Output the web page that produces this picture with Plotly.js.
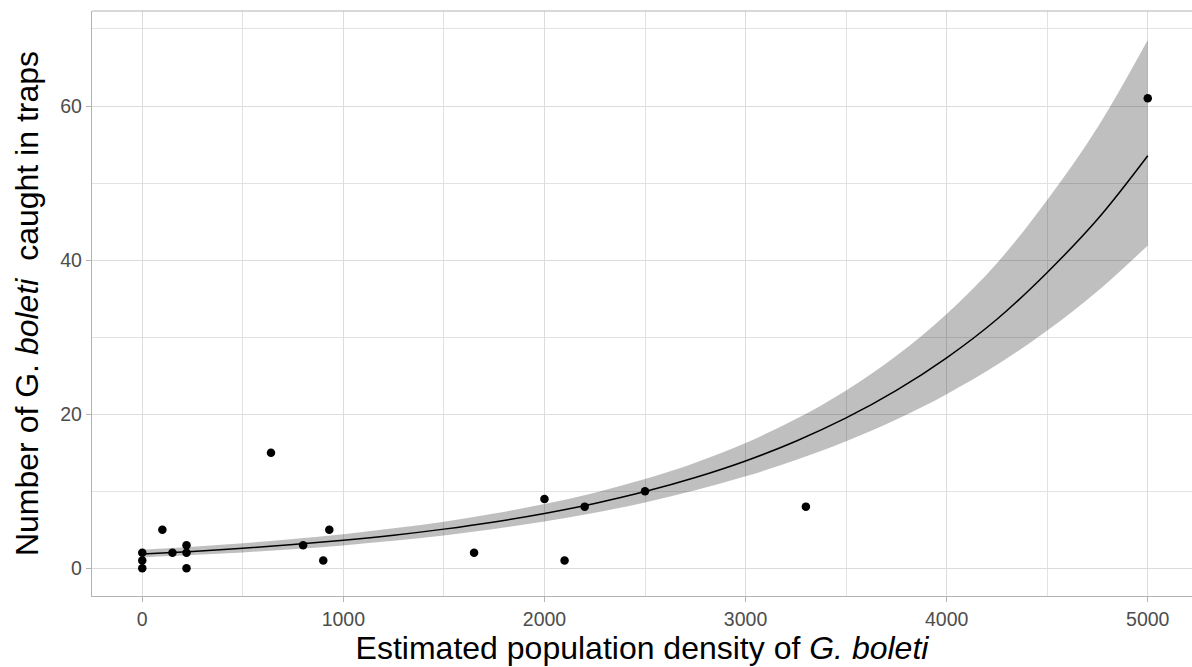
<!DOCTYPE html>
<html>
<head>
<meta charset="utf-8">
<script src="https://cdn.plot.ly/plotly-3.0.1.min.js"></script>
<style>
  html, body { margin: 0; padding: 0; background: #ffffff; }
  #chart { width: 1192px; height: 667px; }
</style>
</head>
<body>
<div id="chart"></div>
<script>
// Observed data points
const density = [0, 0, 0, 100, 150, 220, 220, 220, 640, 800, 900, 930, 1650, 2000, 2100, 2200, 2500, 3300, 5000];
const caught  = [0, 1, 2, 5, 2, 3, 2, 0, 15, 3, 1, 5, 2, 9, 1, 8, 10, 8, 61];

// Fitted curve and confidence band
const fitX     = [0, 250, 500, 750, 1000, 1250, 1500, 1750, 2000, 2250, 2500, 2750, 3000, 3250, 3500, 3750, 4000, 4250, 4500, 4750, 5000];
const fitY     = [1.85, 2.19, 2.59, 3.07, 3.63, 4.29, 5.08, 6.01, 7.11, 8.41, 9.95, 11.78, 13.93, 16.49, 19.51, 23.08, 27.31, 32.32, 38.40, 45.30, 53.55];
const fitUpper = [2.40, 2.79, 3.25, 3.79, 4.43, 5.18, 6.05, 7.10, 8.34, 9.81, 11.58, 13.71, 16.27, 19.36, 23.08, 27.58, 33.01, 39.60, 47.80, 57.20, 68.55];
const fitLower = [1.43, 1.72, 2.06, 2.48, 2.97, 3.56, 4.26, 5.09, 6.06, 7.21, 8.55, 10.11, 11.93, 14.04, 16.48, 19.31, 22.59, 26.40, 30.85, 35.95, 41.90];

// Axis ticks
const xTicks = [0, 1000, 2000, 3000, 4000, 5000];
const yTicks = [0, 20, 40, 60];

const xTitle = 'Estimated population density of <i>G. boleti</i>';
const yTitle = 'Number of G. <i>boleti</i>\u00a0 caught in traps';

const FONT = '"Liberation Sans", Arial, Helvetica, sans-serif';

const traces = [
  {
    x: fitX, y: fitLower, type: 'scatter', mode: 'lines',
    line: { width: 0, color: 'rgba(0,0,0,0)', shape: 'spline' },
    hoverinfo: 'skip', showlegend: false
  },
  {
    x: fitX, y: fitUpper, type: 'scatter', mode: 'lines',
    fill: 'tonexty', fillcolor: 'rgba(0,0,0,0.25)',
    line: { width: 0, color: 'rgba(0,0,0,0)', shape: 'spline' },
    hoverinfo: 'skip', showlegend: false
  },
  {
    x: fitX, y: fitY, type: 'scatter', mode: 'lines',
    line: { color: '#000000', width: 1.5, shape: 'spline' },
    showlegend: false
  },
  {
    x: density, y: caught, type: 'scatter', mode: 'markers',
    marker: { color: '#000000', size: 8.5 },
    showlegend: false
  }
];

const layout = {
  width: 1192, height: 667,
  margin: { l: 92, r: 0, t: 11, b: 71, pad: 0 },
  paper_bgcolor: '#ffffff', plot_bgcolor: '#ffffff',
  showlegend: false,
  font: { family: FONT, color: '#4d4d4d' },
  xaxis: {
    range: [-250, 5220],
    tickvals: xTicks,
    ticktext: xTicks.map(String),
    ticks: 'outside', ticklen: 5, tickcolor: '#b3b3b3', tickwidth: 1,
    tickfont: { family: FONT, size: 19.5, color: '#4d4d4d' },
    showgrid: true, gridcolor: '#dcdcdc', gridwidth: 1,
    minor: { dtick: 500, tick0: 500, showgrid: true, gridcolor: '#e2e2e2', gridwidth: 1, ticks: '' },
    showline: true, linecolor: '#b3b3b3', linewidth: 1.2,
    zeroline: false,
    title: { text: xTitle, font: { family: FONT, size: 32, color: '#000000' }, standoff: 2 }
  },
  yaxis: {
    range: [-3.6, 72.33],
    tickvals: yTicks,
    ticktext: yTicks.map(String),
    ticks: 'outside', ticklen: 5, tickcolor: '#b3b3b3', tickwidth: 1,
    tickfont: { family: FONT, size: 19.5, color: '#4d4d4d' },
    showgrid: true, gridcolor: '#dcdcdc', gridwidth: 1,
    minor: { dtick: 10, tick0: 10, showgrid: true, gridcolor: '#e2e2e2', gridwidth: 1, ticks: '' },
    showline: true, linecolor: '#b3b3b3', linewidth: 1.2,
    zeroline: false,
    title: { text: yTitle, font: { family: FONT, size: 32, color: '#000000' }, standoff: 12 }
  },
  shapes: [
    { type: 'line', xref: 'paper', yref: 'paper', x0: 0, x1: 1, y0: 1, y1: 1,
      line: { color: '#b3b3b3', width: 1.2 } }
  ],
  hovermode: false
};

Plotly.newPlot('chart', traces, layout, { staticPlot: true, displayModeBar: false });
</script>
</body>
</html>
